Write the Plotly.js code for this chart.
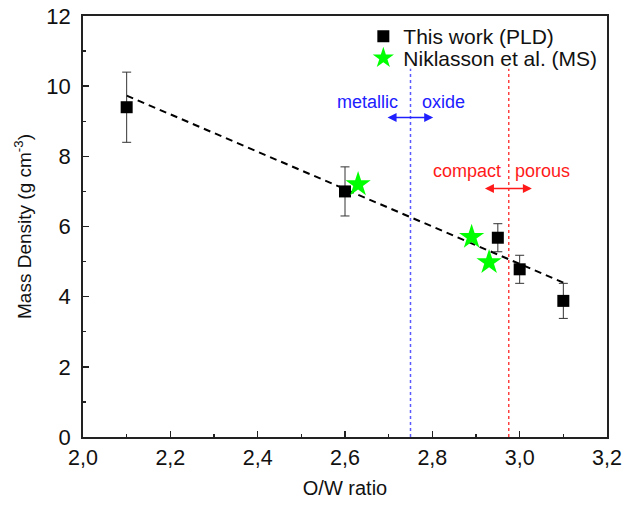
<!DOCTYPE html>
<html>
<head>
<meta charset="utf-8">
<script src="https://cdn.plot.ly/plotly-3.0.1.min.js"></script>
<style>html,body{margin:0;padding:0;background:#fff;}#chart{width:635px;height:506px;}</style>
</head>
<body>
<div id="chart"></div>
<script>
// This work (PLD)
const pldX = [2.1, 2.6, 2.95, 3.0, 3.1];
const pldY = [9.4, 7.0, 5.68, 4.78, 3.88];
const pldErr = [1.0, 0.7, 0.4, 0.4, 0.5];
// Niklasson et al. (MS)
const msX = [2.63, 2.89, 2.93];
const msY = [7.2, 5.7, 4.98];
// Linear fit (dashed)
const fitX = [2.1, 3.1];
const fitY = [9.73, 4.40];
// Boundaries
const metalOxideX = 2.75;
const compactPorousX = 2.975;
const boundaryY = [0, 10.5];

const xTickVals = [2.0, 2.2, 2.4, 2.6, 2.8, 3.0, 3.2];
const yTickVals = [0, 2, 4, 6, 8, 10, 12];

const FONT = 'Liberation Sans, Arial, sans-serif';
const BLUE = '#2020ff';
const RED = '#ff1a1a';

const traces = [
  {
    x: fitX, y: fitY, type: 'scatter', mode: 'lines',
    line: {color: '#000', width: 2, dash: '7px,5px'},
    showlegend: false, hoverinfo: 'skip'
  },
  {
    x: [metalOxideX, metalOxideX], y: boundaryY, type: 'scatter', mode: 'lines',
    line: {color: '#5a5aff', width: 1.5, dash: 'dot'}, showlegend: false
  },
  {
    x: [compactPorousX, compactPorousX], y: boundaryY, type: 'scatter', mode: 'lines',
    line: {color: '#ff4040', width: 1.5, dash: 'dot'}, showlegend: false
  },
  {
    x: pldX, y: pldY, type: 'scatter', mode: 'markers', name: 'This work (PLD)',
    legend: 'legend',
    marker: {symbol: 'square', size: 12, color: '#000'},
    error_y: {type: 'data', array: pldErr, visible: true, color: '#333', thickness: 1, width: 4.5}
  },
  {
    x: msX, y: msY, type: 'scatter', mode: 'markers', name: 'Niklasson et al. (MS)',
    legend: 'legend2',
    marker: {symbol: 'star', size: 19, color: '#00ff00', line: {width: 0}}
  }
];

const annFont = (c) => ({family: FONT, size: 18, color: c});
const legFont = {family: FONT, size: 21, color: '#111'};
const layout = {
  width: 635, height: 506,
  margin: {l: 83, r: 28, t: 16, b: 69},
  paper_bgcolor: '#fff', plot_bgcolor: '#fff',
  separators: ',.',
  font: {family: FONT, color: '#111'},
  xaxis: {
    range: [2.0, 3.2], tickvals: xTickVals, tickformat: '.1f',
    ticks: 'inside', ticklen: 6, tickwidth: 1.5, tickcolor: '#222',
    minor: {dtick: 0.1, ticks: 'inside', ticklen: 3, tickwidth: 1.2, tickcolor: '#222'},
    showline: true, linecolor: '#222', linewidth: 1.8, mirror: true,
    showgrid: false, zeroline: false,
    tickfont: {family: FONT, size: 21.5, color: '#111'},
    ticklabelstandoff: 0,
    title: {text: 'O/W ratio', font: {family: FONT, size: 20, color: '#111'}, standoff: 12}
  },
  yaxis: {
    range: [0, 12], tickvals: yTickVals,
    ticks: 'inside', ticklen: 6, tickwidth: 1.5, tickcolor: '#222',
    minor: {dtick: 1, ticks: 'inside', ticklen: 3, tickwidth: 1.2, tickcolor: '#222'},
    showline: true, linecolor: '#222', linewidth: 1.8, mirror: true,
    showgrid: false, zeroline: false,
    tickfont: {family: FONT, size: 22, color: '#111'},
    ticklabelstandoff: 6,
    title: {text: 'Mass Density (g cm<sup>-3</sup>)', font: {family: FONT, size: 19, color: '#111'}, standoff: 10}
  },
  legend: {
    x: 0.535, xanchor: 'left', y: 1.0, yanchor: 'top',
    bgcolor: 'rgba(0,0,0,0)', borderwidth: 0, font: legFont, itemwidth: 30
  },
  legend2: {
    x: 0.535, xanchor: 'left', y: 0.948, yanchor: 'top',
    bgcolor: 'rgba(0,0,0,0)', borderwidth: 0, font: legFont, itemwidth: 30
  },
  annotations: [
    {x: 2.7266, y: 9.56, xref: 'x', yref: 'y', text: 'metallic', showarrow: false, xanchor: 'right', yanchor: 'middle', font: annFont(BLUE)},
    {x: 2.771, y: 9.56, xref: 'x', yref: 'y', text: 'oxide', showarrow: false, xanchor: 'left', yanchor: 'middle', font: annFont(BLUE)},
    {x: 2.9625, y: 7.59, xref: 'x', yref: 'y', text: 'compact', showarrow: false, xanchor: 'right', yanchor: 'middle', font: annFont(RED)},
    {x: 2.984, y: 7.59, xref: 'x', yref: 'y', text: 'porous', showarrow: false, xanchor: 'left', yanchor: 'middle', font: annFont(RED)},
    {x: 2.802, y: 9.11, ax: 2.694, ay: 9.11, xref: 'x', yref: 'y', axref: 'x', ayref: 'y', text: '', showarrow: true,
     arrowhead: 2, arrowside: 'end+start', arrowsize: 1.2, arrowwidth: 1.5, arrowcolor: BLUE},
    {x: 3.028, y: 7.08, ax: 2.917, ay: 7.08, xref: 'x', yref: 'y', axref: 'x', ayref: 'y', text: '', showarrow: true,
     arrowhead: 2, arrowside: 'end+start', arrowsize: 1.2, arrowwidth: 1.5, arrowcolor: RED}
  ]
};

Plotly.newPlot('chart', traces, layout, {displayModeBar: false, staticPlot: true});
</script>
</body>
</html>
